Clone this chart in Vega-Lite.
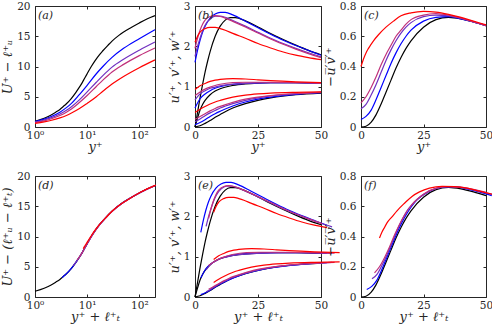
{
"$schema":"https://vega.github.io/schema/vega-lite/v6.json",
"padding":{"left":1,"top":0,"right":0,"bottom":0},
"bounds":"flush",
"spacing":{"row":49,"column":40},
"columns":3,
"config":{
 "view":{"stroke":"#262626","strokeWidth":1},
 "axis":{"labelFont":"DejaVu Serif","labelFontSize":10.5,"labelColor":"#262626","titleFont":"DejaVu Serif","titleFontSize":13,"titleFontStyle":"italic","titleFontWeight":"normal","titleColor":"#262626","grid":false,"domain":false,"tickColor":"#262626","tickSize":-3,"labelFlush":false,"labelOverlap":false},
 "axisX":{"labelPadding":6,"titlePadding":0},
 "axisY":{"labelPadding":8,"titlePadding":2},
 "line":{"strokeWidth":1.2,"interpolate":"monotone","clip":true},
 "text":{"font":"DejaVu Serif","fontSize":11,"fontStyle":"italic","align":"left","baseline":"top","color":"#262626"}
},
"datasets":{
"a":[
{"c":"k","x":1,"y":0.95},{"c":"k","x":1.5,"y":1.45},{"c":"k","x":2,"y":1.95},{"c":"k","x":2.5,"y":2.45},{"c":"k","x":3,"y":2.9},{"c":"k","x":3.5,"y":3.4},{"c":"k","x":4,"y":3.85},{"c":"k","x":5,"y":4.75},{"c":"k","x":6,"y":5.65},{"c":"k","x":7,"y":6.5},{"c":"k","x":8,"y":7.3},{"c":"k","x":9,"y":8.1},{"c":"k","x":10,"y":8.8},{"c":"k","x":12,"y":10.0},{"c":"k","x":14,"y":10.9},{"c":"k","x":17,"y":11.9},{"c":"k","x":20,"y":12.6},{"c":"k","x":25,"y":13.5},{"c":"k","x":30,"y":14.2},{"c":"k","x":40,"y":15.1},{"c":"k","x":50,"y":15.7},{"c":"k","x":70,"y":16.45},{"c":"k","x":100,"y":17.2},{"c":"k","x":140,"y":17.85},{"c":"k","x":200,"y":18.4},
{"c":"b","x":1,"y":0.9},{"c":"b","x":1.5,"y":1.3},{"c":"b","x":2,"y":1.7},{"c":"b","x":3,"y":2.45},{"c":"b","x":4,"y":3.2},{"c":"b","x":5,"y":3.9},{"c":"b","x":7,"y":5.3},{"c":"b","x":10,"y":6.9},{"c":"b","x":15,"y":8.8},{"c":"b","x":20,"y":10.0},{"c":"b","x":30,"y":11.5},{"c":"b","x":50,"y":13.0},{"c":"b","x":100,"y":14.6},{"c":"b","x":200,"y":16.1},
{"c":"p","x":1,"y":0.8},{"c":"p","x":1.5,"y":1.15},{"c":"p","x":2,"y":1.5},{"c":"p","x":3,"y":2.15},{"c":"p","x":4,"y":2.75},{"c":"p","x":5,"y":3.35},{"c":"p","x":7,"y":4.45},{"c":"p","x":10,"y":5.8},{"c":"p","x":15,"y":7.4},{"c":"p","x":20,"y":8.5},{"c":"p","x":30,"y":9.9},{"c":"p","x":50,"y":11.2},{"c":"p","x":100,"y":12.7},{"c":"p","x":200,"y":14.05},
{"c":"m","x":1,"y":0.72},{"c":"m","x":1.5,"y":1.02},{"c":"m","x":2,"y":1.32},{"c":"m","x":3,"y":1.9},{"c":"m","x":4,"y":2.45},{"c":"m","x":5,"y":2.98},{"c":"m","x":7,"y":4.0},{"c":"m","x":10,"y":5.2},{"c":"m","x":15,"y":6.7},{"c":"m","x":20,"y":7.75},{"c":"m","x":30,"y":9.1},{"c":"m","x":50,"y":10.35},{"c":"m","x":100,"y":11.8},{"c":"m","x":200,"y":13.06},
{"c":"r","x":1,"y":0.6},{"c":"r","x":1.5,"y":0.85},{"c":"r","x":2,"y":1.08},{"c":"r","x":3,"y":1.5},{"c":"r","x":4,"y":1.9},{"c":"r","x":5,"y":2.3},{"c":"r","x":7,"y":3.0},{"c":"r","x":10,"y":3.9},{"c":"r","x":15,"y":5.0},{"c":"r","x":20,"y":5.9},{"c":"r","x":30,"y":7.1},{"c":"r","x":50,"y":8.35},{"c":"r","x":100,"y":9.8},{"c":"r","x":200,"y":11.1}
],
"d":[
{"c":"k","x":1,"y":0.95},{"c":"k","x":1.5,"y":1.45},{"c":"k","x":2,"y":1.95},{"c":"k","x":2.5,"y":2.45},{"c":"k","x":3,"y":2.9},{"c":"k","x":3.5,"y":3.4},{"c":"k","x":4,"y":3.85},{"c":"k","x":5,"y":4.75},{"c":"k","x":6,"y":5.65},{"c":"k","x":7,"y":6.5},{"c":"k","x":8,"y":7.3},{"c":"k","x":9,"y":8.1},{"c":"k","x":10,"y":8.8},{"c":"k","x":12,"y":10.0},{"c":"k","x":14,"y":10.9},{"c":"k","x":17,"y":11.9},{"c":"k","x":20,"y":12.6},{"c":"k","x":25,"y":13.5},{"c":"k","x":30,"y":14.2},{"c":"k","x":40,"y":15.1},{"c":"k","x":50,"y":15.7},{"c":"k","x":70,"y":16.45},{"c":"k","x":100,"y":17.2},{"c":"k","x":140,"y":17.85},{"c":"k","x":200,"y":18.4},
{"c":"b","x":3.3,"y":3.2},{"c":"b","x":3.8,"y":3.67},{"c":"b","x":4.3,"y":4.12},{"c":"b","x":5.3,"y":5.02},{"c":"b","x":6.3,"y":5.91},{"c":"b","x":7.3,"y":6.74},{"c":"b","x":9.3,"y":8.31},{"c":"b","x":12.3,"y":10.14},{"c":"b","x":17.3,"y":11.97},{"c":"b","x":22.3,"y":13.0},{"c":"b","x":32.3,"y":14.4},{"c":"b","x":52.3,"y":15.77},{"c":"b","x":102.3,"y":17.24},{"c":"b","x":202.3,"y":18.43},
{"c":"p","x":5.4,"y":5.2},{"c":"p","x":5.9,"y":5.6},{"c":"p","x":6.4,"y":6.02},{"c":"p","x":7.4,"y":6.82},{"c":"p","x":8.4,"y":7.62},{"c":"p","x":9.4,"y":8.38},{"c":"p","x":11.4,"y":9.64},{"c":"p","x":14.4,"y":11.03},{"c":"p","x":19.4,"y":12.46},{"c":"p","x":24.4,"y":13.4},{"c":"p","x":34.4,"y":14.6},{"c":"p","x":54.4,"y":15.85},{"c":"p","x":104.4,"y":17.27},{"c":"p","x":204.4,"y":18.45},
{"c":"m","x":6.4,"y":6.12},{"c":"m","x":6.9,"y":6.46},{"c":"m","x":7.4,"y":6.84},{"c":"m","x":8.4,"y":7.62},{"c":"m","x":9.4,"y":8.38},{"c":"m","x":10.4,"y":9.04},{"c":"m","x":12.4,"y":10.18},{"c":"m","x":15.4,"y":11.36},{"c":"m","x":20.4,"y":12.67},{"c":"m","x":25.4,"y":13.56},{"c":"m","x":35.4,"y":14.7},{"c":"m","x":55.4,"y":15.9},{"c":"m","x":105.4,"y":17.3},{"c":"m","x":205.4,"y":18.46},
{"c":"r","x":8.4,"y":8.0},{"c":"r","x":8.9,"y":8.37},{"c":"r","x":9.4,"y":8.68},{"c":"r","x":10.4,"y":9.29},{"c":"r","x":11.4,"y":9.84},{"c":"r","x":12.4,"y":10.33},{"c":"r","x":14.4,"y":11.13},{"c":"r","x":17.4,"y":12.05},{"c":"r","x":22.4,"y":13.03},{"c":"r","x":27.4,"y":13.84},{"c":"r","x":37.4,"y":14.87},{"c":"r","x":57.4,"y":15.97},{"c":"r","x":107.4,"y":17.35},{"c":"r","x":207.4,"y":18.49}
],
"b":[
{"c":"k","q":"u","x":0,"y":0},{"c":"k","q":"u","x":1,"y":0.36},{"c":"k","q":"u","x":2,"y":0.72},{"c":"k","q":"u","x":3,"y":1.05},{"c":"k","q":"u","x":4,"y":1.36},{"c":"k","q":"u","x":5,"y":1.63},{"c":"k","q":"u","x":6,"y":1.87},{"c":"k","q":"u","x":8,"y":2.25},{"c":"k","q":"u","x":10,"y":2.5},{"c":"k","q":"u","x":12,"y":2.65},{"c":"k","q":"u","x":14,"y":2.71},{"c":"k","q":"u","x":16,"y":2.71},{"c":"k","q":"u","x":20,"y":2.63},{"c":"k","q":"u","x":25,"y":2.48},{"c":"k","q":"u","x":30,"y":2.32},{"c":"k","q":"u","x":35,"y":2.17},{"c":"k","q":"u","x":40,"y":2.03},{"c":"k","q":"u","x":45,"y":1.9},{"c":"k","q":"u","x":50,"y":1.79},
{"c":"b","q":"u","x":0,"y":1.6},{"c":"b","q":"u","x":1,"y":1.9},{"c":"b","q":"u","x":2,"y":2.15},{"c":"b","q":"u","x":3,"y":2.35},{"c":"b","q":"u","x":4,"y":2.5},{"c":"b","q":"u","x":6,"y":2.7},{"c":"b","q":"u","x":8,"y":2.8},{"c":"b","q":"u","x":10,"y":2.84},{"c":"b","q":"u","x":12,"y":2.84},{"c":"b","q":"u","x":15,"y":2.78},{"c":"b","q":"u","x":20,"y":2.62},{"c":"b","q":"u","x":25,"y":2.46},{"c":"b","q":"u","x":30,"y":2.3},{"c":"b","q":"u","x":35,"y":2.15},{"c":"b","q":"u","x":40,"y":2.02},{"c":"b","q":"u","x":45,"y":1.9},{"c":"b","q":"u","x":50,"y":1.78},
{"c":"p","q":"u","x":0,"y":1.75},{"c":"p","q":"u","x":1,"y":2.0},{"c":"p","q":"u","x":2,"y":2.2},{"c":"p","q":"u","x":3,"y":2.38},{"c":"p","q":"u","x":4,"y":2.52},{"c":"p","q":"u","x":6,"y":2.68},{"c":"p","q":"u","x":8,"y":2.75},{"c":"p","q":"u","x":10,"y":2.75},{"c":"p","q":"u","x":12,"y":2.72},{"c":"p","q":"u","x":15,"y":2.64},{"c":"p","q":"u","x":20,"y":2.5},{"c":"p","q":"u","x":25,"y":2.35},{"c":"p","q":"u","x":30,"y":2.2},{"c":"p","q":"u","x":35,"y":2.07},{"c":"p","q":"u","x":40,"y":1.95},{"c":"p","q":"u","x":45,"y":1.84},{"c":"p","q":"u","x":50,"y":1.74},
{"c":"m","q":"u","x":0,"y":1.95},{"c":"m","q":"u","x":1,"y":2.2},{"c":"m","q":"u","x":2,"y":2.4},{"c":"m","q":"u","x":3,"y":2.55},{"c":"m","q":"u","x":4,"y":2.65},{"c":"m","q":"u","x":6,"y":2.74},{"c":"m","q":"u","x":8,"y":2.76},{"c":"m","q":"u","x":10,"y":2.74},{"c":"m","q":"u","x":12,"y":2.7},{"c":"m","q":"u","x":15,"y":2.62},{"c":"m","q":"u","x":20,"y":2.48},{"c":"m","q":"u","x":25,"y":2.33},{"c":"m","q":"u","x":30,"y":2.18},{"c":"m","q":"u","x":35,"y":2.05},{"c":"m","q":"u","x":40,"y":1.93},{"c":"m","q":"u","x":45,"y":1.82},{"c":"m","q":"u","x":50,"y":1.72},
{"c":"r","q":"u","x":0,"y":2.1},{"c":"r","q":"u","x":1,"y":2.25},{"c":"r","q":"u","x":2,"y":2.35},{"c":"r","q":"u","x":4,"y":2.44},{"c":"r","q":"u","x":6,"y":2.47},{"c":"r","q":"u","x":8,"y":2.47},{"c":"r","q":"u","x":10,"y":2.44},{"c":"r","q":"u","x":12,"y":2.4},{"c":"r","q":"u","x":15,"y":2.32},{"c":"r","q":"u","x":20,"y":2.2},{"c":"r","q":"u","x":25,"y":2.07},{"c":"r","q":"u","x":30,"y":1.96},{"c":"r","q":"u","x":35,"y":1.86},{"c":"r","q":"u","x":40,"y":1.78},{"c":"r","q":"u","x":45,"y":1.72},{"c":"r","q":"u","x":50,"y":1.67},
{"c":"k","q":"w","x":0,"y":0},{"c":"k","q":"w","x":1,"y":0.22},{"c":"k","q":"w","x":2,"y":0.42},{"c":"k","q":"w","x":3,"y":0.56},{"c":"k","q":"w","x":4,"y":0.66},{"c":"k","q":"w","x":6,"y":0.8},{"c":"k","q":"w","x":8,"y":0.89},{"c":"k","q":"w","x":10,"y":0.95},{"c":"k","q":"w","x":15,"y":1.03},{"c":"k","q":"w","x":20,"y":1.07},{"c":"k","q":"w","x":25,"y":1.09},{"c":"k","q":"w","x":30,"y":1.1},{"c":"k","q":"w","x":40,"y":1.1},{"c":"k","q":"w","x":50,"y":1.08},
{"c":"b","q":"w","x":0,"y":0.47},{"c":"b","q":"w","x":2,"y":0.7},{"c":"b","q":"w","x":4,"y":0.82},{"c":"b","q":"w","x":6,"y":0.9},{"c":"b","q":"w","x":8,"y":0.96},{"c":"b","q":"w","x":10,"y":1.0},{"c":"b","q":"w","x":15,"y":1.06},{"c":"b","q":"w","x":20,"y":1.08},{"c":"b","q":"w","x":30,"y":1.1},{"c":"b","q":"w","x":40,"y":1.1},{"c":"b","q":"w","x":50,"y":1.08},
{"c":"p","q":"w","x":0,"y":0.67},{"c":"p","q":"w","x":2,"y":0.82},{"c":"p","q":"w","x":4,"y":0.9},{"c":"p","q":"w","x":6,"y":0.96},{"c":"p","q":"w","x":8,"y":0.99},{"c":"p","q":"w","x":10,"y":1.02},{"c":"p","q":"w","x":15,"y":1.06},{"c":"p","q":"w","x":20,"y":1.08},{"c":"p","q":"w","x":30,"y":1.1},{"c":"p","q":"w","x":40,"y":1.1},{"c":"p","q":"w","x":50,"y":1.08},
{"c":"m","q":"w","x":0,"y":0.78},{"c":"m","q":"w","x":2,"y":0.87},{"c":"m","q":"w","x":4,"y":0.94},{"c":"m","q":"w","x":6,"y":0.99},{"c":"m","q":"w","x":8,"y":1.03},{"c":"m","q":"w","x":10,"y":1.06},{"c":"m","q":"w","x":15,"y":1.1},{"c":"m","q":"w","x":20,"y":1.11},{"c":"m","q":"w","x":30,"y":1.11},{"c":"m","q":"w","x":40,"y":1.1},{"c":"m","q":"w","x":50,"y":1.09},
{"c":"r","q":"w","x":0,"y":0.93},{"c":"r","q":"w","x":2,"y":1.02},{"c":"r","q":"w","x":4,"y":1.08},{"c":"r","q":"w","x":6,"y":1.13},{"c":"r","q":"w","x":8,"y":1.16},{"c":"r","q":"w","x":10,"y":1.18},{"c":"r","q":"w","x":15,"y":1.2},{"c":"r","q":"w","x":20,"y":1.19},{"c":"r","q":"w","x":25,"y":1.17},{"c":"r","q":"w","x":30,"y":1.15},{"c":"r","q":"w","x":40,"y":1.12},{"c":"r","q":"w","x":50,"y":1.1},
{"c":"k","q":"v","x":0,"y":0},{"c":"k","q":"v","x":2,"y":0.03},{"c":"k","q":"v","x":4,"y":0.09},{"c":"k","q":"v","x":6,"y":0.16},{"c":"k","q":"v","x":8,"y":0.24},{"c":"k","q":"v","x":10,"y":0.31},{"c":"k","q":"v","x":12,"y":0.38},{"c":"k","q":"v","x":15,"y":0.47},{"c":"k","q":"v","x":20,"y":0.58},{"c":"k","q":"v","x":25,"y":0.66},{"c":"k","q":"v","x":30,"y":0.72},{"c":"k","q":"v","x":40,"y":0.8},{"c":"k","q":"v","x":50,"y":0.84},
{"c":"b","q":"v","x":0,"y":0.06},{"c":"b","q":"v","x":2,"y":0.11},{"c":"b","q":"v","x":4,"y":0.18},{"c":"b","q":"v","x":6,"y":0.26},{"c":"b","q":"v","x":8,"y":0.33},{"c":"b","q":"v","x":10,"y":0.39},{"c":"b","q":"v","x":15,"y":0.52},{"c":"b","q":"v","x":20,"y":0.62},{"c":"b","q":"v","x":25,"y":0.69},{"c":"b","q":"v","x":30,"y":0.74},{"c":"b","q":"v","x":40,"y":0.81},{"c":"b","q":"v","x":50,"y":0.85},
{"c":"p","q":"v","x":0,"y":0.13},{"c":"p","q":"v","x":2,"y":0.2},{"c":"p","q":"v","x":4,"y":0.28},{"c":"p","q":"v","x":6,"y":0.35},{"c":"p","q":"v","x":8,"y":0.41},{"c":"p","q":"v","x":10,"y":0.47},{"c":"p","q":"v","x":15,"y":0.58},{"c":"p","q":"v","x":20,"y":0.66},{"c":"p","q":"v","x":25,"y":0.72},{"c":"p","q":"v","x":30,"y":0.77},{"c":"p","q":"v","x":40,"y":0.82},{"c":"p","q":"v","x":50,"y":0.86},
{"c":"m","q":"v","x":0,"y":0.19},{"c":"m","q":"v","x":2,"y":0.26},{"c":"m","q":"v","x":4,"y":0.33},{"c":"m","q":"v","x":6,"y":0.4},{"c":"m","q":"v","x":8,"y":0.46},{"c":"m","q":"v","x":10,"y":0.51},{"c":"m","q":"v","x":15,"y":0.61},{"c":"m","q":"v","x":20,"y":0.69},{"c":"m","q":"v","x":25,"y":0.74},{"c":"m","q":"v","x":30,"y":0.78},{"c":"m","q":"v","x":40,"y":0.83},{"c":"m","q":"v","x":50,"y":0.86},
{"c":"r","q":"v","x":0,"y":0.36},{"c":"r","q":"v","x":2,"y":0.44},{"c":"r","q":"v","x":4,"y":0.51},{"c":"r","q":"v","x":6,"y":0.57},{"c":"r","q":"v","x":8,"y":0.62},{"c":"r","q":"v","x":10,"y":0.66},{"c":"r","q":"v","x":15,"y":0.74},{"c":"r","q":"v","x":20,"y":0.79},{"c":"r","q":"v","x":25,"y":0.82},{"c":"r","q":"v","x":30,"y":0.84},{"c":"r","q":"v","x":40,"y":0.86},{"c":"r","q":"v","x":50,"y":0.87}
],
"e":[
{"c":"k","q":"u","x":0,"y":0},{"c":"k","q":"u","x":1,"y":0.36},{"c":"k","q":"u","x":2,"y":0.72},{"c":"k","q":"u","x":3,"y":1.05},{"c":"k","q":"u","x":4,"y":1.36},{"c":"k","q":"u","x":5,"y":1.63},{"c":"k","q":"u","x":6,"y":1.87},{"c":"k","q":"u","x":8,"y":2.25},{"c":"k","q":"u","x":10,"y":2.5},{"c":"k","q":"u","x":12,"y":2.65},{"c":"k","q":"u","x":14,"y":2.71},{"c":"k","q":"u","x":16,"y":2.71},{"c":"k","q":"u","x":20,"y":2.63},{"c":"k","q":"u","x":25,"y":2.48},{"c":"k","q":"u","x":30,"y":2.32},{"c":"k","q":"u","x":35,"y":2.17},{"c":"k","q":"u","x":40,"y":2.03},{"c":"k","q":"u","x":45,"y":1.9},{"c":"k","q":"u","x":50,"y":1.79},
{"c":"b","q":"u","x":2.3,"y":1.6},{"c":"b","q":"u","x":3.3,"y":1.9},{"c":"b","q":"u","x":4.3,"y":2.15},{"c":"b","q":"u","x":5.3,"y":2.35},{"c":"b","q":"u","x":6.3,"y":2.5},{"c":"b","q":"u","x":8.3,"y":2.7},{"c":"b","q":"u","x":10.3,"y":2.8},{"c":"b","q":"u","x":12.3,"y":2.84},{"c":"b","q":"u","x":14.3,"y":2.84},{"c":"b","q":"u","x":17.3,"y":2.78},{"c":"b","q":"u","x":22.3,"y":2.62},{"c":"b","q":"u","x":27.3,"y":2.46},{"c":"b","q":"u","x":32.3,"y":2.3},{"c":"b","q":"u","x":37.3,"y":2.15},{"c":"b","q":"u","x":42.3,"y":2.02},{"c":"b","q":"u","x":47.3,"y":1.9},{"c":"b","q":"u","x":52.3,"y":1.78},
{"c":"p","q":"u","x":4.4,"y":1.75},{"c":"p","q":"u","x":5.4,"y":2.0},{"c":"p","q":"u","x":6.4,"y":2.2},{"c":"p","q":"u","x":7.4,"y":2.38},{"c":"p","q":"u","x":8.4,"y":2.52},{"c":"p","q":"u","x":10.4,"y":2.68},{"c":"p","q":"u","x":12.4,"y":2.75},{"c":"p","q":"u","x":14.4,"y":2.75},{"c":"p","q":"u","x":16.4,"y":2.72},{"c":"p","q":"u","x":19.4,"y":2.64},{"c":"p","q":"u","x":24.4,"y":2.5},{"c":"p","q":"u","x":29.4,"y":2.35},{"c":"p","q":"u","x":34.4,"y":2.2},{"c":"p","q":"u","x":39.4,"y":2.07},{"c":"p","q":"u","x":44.4,"y":1.95},{"c":"p","q":"u","x":49.4,"y":1.84},{"c":"p","q":"u","x":54.4,"y":1.74},
{"c":"m","q":"u","x":5.4,"y":1.95},{"c":"m","q":"u","x":6.4,"y":2.2},{"c":"m","q":"u","x":7.4,"y":2.4},{"c":"m","q":"u","x":8.4,"y":2.55},{"c":"m","q":"u","x":9.4,"y":2.65},{"c":"m","q":"u","x":11.4,"y":2.74},{"c":"m","q":"u","x":13.4,"y":2.76},{"c":"m","q":"u","x":15.4,"y":2.74},{"c":"m","q":"u","x":17.4,"y":2.7},{"c":"m","q":"u","x":20.4,"y":2.62},{"c":"m","q":"u","x":25.4,"y":2.48},{"c":"m","q":"u","x":30.4,"y":2.33},{"c":"m","q":"u","x":35.4,"y":2.18},{"c":"m","q":"u","x":40.4,"y":2.05},{"c":"m","q":"u","x":45.4,"y":1.93},{"c":"m","q":"u","x":50.4,"y":1.82},
{"c":"r","q":"u","x":7.4,"y":2.1},{"c":"r","q":"u","x":8.4,"y":2.25},{"c":"r","q":"u","x":9.4,"y":2.35},{"c":"r","q":"u","x":11.4,"y":2.44},{"c":"r","q":"u","x":13.4,"y":2.47},{"c":"r","q":"u","x":15.4,"y":2.47},{"c":"r","q":"u","x":17.4,"y":2.44},{"c":"r","q":"u","x":19.4,"y":2.4},{"c":"r","q":"u","x":22.4,"y":2.32},{"c":"r","q":"u","x":27.4,"y":2.2},{"c":"r","q":"u","x":32.4,"y":2.07},{"c":"r","q":"u","x":37.4,"y":1.96},{"c":"r","q":"u","x":42.4,"y":1.86},{"c":"r","q":"u","x":47.4,"y":1.78},{"c":"r","q":"u","x":52.4,"y":1.72},
{"c":"k","q":"w","x":0,"y":0},{"c":"k","q":"w","x":1,"y":0.22},{"c":"k","q":"w","x":2,"y":0.42},{"c":"k","q":"w","x":3,"y":0.56},{"c":"k","q":"w","x":4,"y":0.66},{"c":"k","q":"w","x":6,"y":0.8},{"c":"k","q":"w","x":8,"y":0.89},{"c":"k","q":"w","x":10,"y":0.95},{"c":"k","q":"w","x":15,"y":1.03},{"c":"k","q":"w","x":20,"y":1.07},{"c":"k","q":"w","x":25,"y":1.09},{"c":"k","q":"w","x":30,"y":1.1},{"c":"k","q":"w","x":40,"y":1.1},{"c":"k","q":"w","x":50,"y":1.08},
{"c":"b","q":"w","x":2.3,"y":0.47},{"c":"b","q":"w","x":4.3,"y":0.7},{"c":"b","q":"w","x":6.3,"y":0.82},{"c":"b","q":"w","x":8.3,"y":0.9},{"c":"b","q":"w","x":10.3,"y":0.96},{"c":"b","q":"w","x":12.3,"y":1.0},{"c":"b","q":"w","x":17.3,"y":1.06},{"c":"b","q":"w","x":22.3,"y":1.08},{"c":"b","q":"w","x":32.3,"y":1.1},{"c":"b","q":"w","x":42.3,"y":1.1},{"c":"b","q":"w","x":52.3,"y":1.08},
{"c":"p","q":"w","x":4.4,"y":0.67},{"c":"p","q":"w","x":6.4,"y":0.82},{"c":"p","q":"w","x":8.4,"y":0.9},{"c":"p","q":"w","x":10.4,"y":0.96},{"c":"p","q":"w","x":12.4,"y":0.99},{"c":"p","q":"w","x":14.4,"y":1.02},{"c":"p","q":"w","x":19.4,"y":1.06},{"c":"p","q":"w","x":24.4,"y":1.08},{"c":"p","q":"w","x":34.4,"y":1.1},{"c":"p","q":"w","x":44.4,"y":1.1},{"c":"p","q":"w","x":54.4,"y":1.08},
{"c":"m","q":"w","x":5.4,"y":0.78},{"c":"m","q":"w","x":7.4,"y":0.87},{"c":"m","q":"w","x":9.4,"y":0.94},{"c":"m","q":"w","x":11.4,"y":0.99},{"c":"m","q":"w","x":13.4,"y":1.03},{"c":"m","q":"w","x":15.4,"y":1.06},{"c":"m","q":"w","x":20.4,"y":1.1},{"c":"m","q":"w","x":25.4,"y":1.11},{"c":"m","q":"w","x":35.4,"y":1.11},{"c":"m","q":"w","x":45.4,"y":1.1},{"c":"m","q":"w","x":55.4,"y":1.09},
{"c":"r","q":"w","x":7.4,"y":0.93},{"c":"r","q":"w","x":9.4,"y":1.02},{"c":"r","q":"w","x":11.4,"y":1.08},{"c":"r","q":"w","x":13.4,"y":1.13},{"c":"r","q":"w","x":15.4,"y":1.16},{"c":"r","q":"w","x":17.4,"y":1.18},{"c":"r","q":"w","x":22.4,"y":1.2},{"c":"r","q":"w","x":27.4,"y":1.19},{"c":"r","q":"w","x":32.4,"y":1.17},{"c":"r","q":"w","x":37.4,"y":1.15},{"c":"r","q":"w","x":47.4,"y":1.12},{"c":"r","q":"w","x":57.4,"y":1.1},
{"c":"k","q":"v","x":0,"y":0},{"c":"k","q":"v","x":2,"y":0.03},{"c":"k","q":"v","x":4,"y":0.09},{"c":"k","q":"v","x":6,"y":0.16},{"c":"k","q":"v","x":8,"y":0.24},{"c":"k","q":"v","x":10,"y":0.31},{"c":"k","q":"v","x":12,"y":0.38},{"c":"k","q":"v","x":15,"y":0.47},{"c":"k","q":"v","x":20,"y":0.58},{"c":"k","q":"v","x":25,"y":0.66},{"c":"k","q":"v","x":30,"y":0.72},{"c":"k","q":"v","x":40,"y":0.8},{"c":"k","q":"v","x":50,"y":0.84},
{"c":"b","q":"v","x":2.3,"y":0.06},{"c":"b","q":"v","x":4.3,"y":0.11},{"c":"b","q":"v","x":6.3,"y":0.18},{"c":"b","q":"v","x":8.3,"y":0.26},{"c":"b","q":"v","x":10.3,"y":0.33},{"c":"b","q":"v","x":12.3,"y":0.39},{"c":"b","q":"v","x":17.3,"y":0.52},{"c":"b","q":"v","x":22.3,"y":0.62},{"c":"b","q":"v","x":27.3,"y":0.69},{"c":"b","q":"v","x":32.3,"y":0.74},{"c":"b","q":"v","x":42.3,"y":0.81},{"c":"b","q":"v","x":52.3,"y":0.85},
{"c":"p","q":"v","x":4.4,"y":0.13},{"c":"p","q":"v","x":6.4,"y":0.2},{"c":"p","q":"v","x":8.4,"y":0.28},{"c":"p","q":"v","x":10.4,"y":0.35},{"c":"p","q":"v","x":12.4,"y":0.41},{"c":"p","q":"v","x":14.4,"y":0.47},{"c":"p","q":"v","x":19.4,"y":0.58},{"c":"p","q":"v","x":24.4,"y":0.66},{"c":"p","q":"v","x":29.4,"y":0.72},{"c":"p","q":"v","x":34.4,"y":0.77},{"c":"p","q":"v","x":44.4,"y":0.82},{"c":"p","q":"v","x":54.4,"y":0.86},
{"c":"m","q":"v","x":5.4,"y":0.19},{"c":"m","q":"v","x":7.4,"y":0.26},{"c":"m","q":"v","x":9.4,"y":0.33},{"c":"m","q":"v","x":11.4,"y":0.4},{"c":"m","q":"v","x":13.4,"y":0.46},{"c":"m","q":"v","x":15.4,"y":0.51},{"c":"m","q":"v","x":20.4,"y":0.61},{"c":"m","q":"v","x":25.4,"y":0.69},{"c":"m","q":"v","x":30.4,"y":0.74},{"c":"m","q":"v","x":35.4,"y":0.78},{"c":"m","q":"v","x":45.4,"y":0.83},{"c":"m","q":"v","x":55.4,"y":0.86},
{"c":"r","q":"v","x":7.4,"y":0.36},{"c":"r","q":"v","x":9.4,"y":0.44},{"c":"r","q":"v","x":11.4,"y":0.51},{"c":"r","q":"v","x":13.4,"y":0.57},{"c":"r","q":"v","x":15.4,"y":0.62},{"c":"r","q":"v","x":17.4,"y":0.66},{"c":"r","q":"v","x":22.4,"y":0.74},{"c":"r","q":"v","x":27.4,"y":0.79},{"c":"r","q":"v","x":32.4,"y":0.82},{"c":"r","q":"v","x":37.4,"y":0.84},{"c":"r","q":"v","x":47.4,"y":0.86},{"c":"r","q":"v","x":57.4,"y":0.87}
],
"c":[
{"c":"k","x":0,"y":0},{"c":"k","x":2,"y":0.005},{"c":"k","x":4,"y":0.03},{"c":"k","x":6,"y":0.08},{"c":"k","x":8,"y":0.15},{"c":"k","x":10,"y":0.23},{"c":"k","x":12,"y":0.31},{"c":"k","x":14,"y":0.39},{"c":"k","x":16,"y":0.46},{"c":"k","x":18,"y":0.52},{"c":"k","x":20,"y":0.57},{"c":"k","x":25,"y":0.66},{"c":"k","x":30,"y":0.71},{"c":"k","x":35,"y":0.725},{"c":"k","x":40,"y":0.715},{"c":"k","x":45,"y":0.695},{"c":"k","x":50,"y":0.67},
{"c":"b","x":0,"y":0.05},{"c":"b","x":2,"y":0.07},{"c":"b","x":4,"y":0.11},{"c":"b","x":6,"y":0.18},{"c":"b","x":8,"y":0.26},{"c":"b","x":10,"y":0.34},{"c":"b","x":12,"y":0.42},{"c":"b","x":14,"y":0.49},{"c":"b","x":16,"y":0.55},{"c":"b","x":18,"y":0.6},{"c":"b","x":20,"y":0.64},{"c":"b","x":25,"y":0.7},{"c":"b","x":30,"y":0.725},{"c":"b","x":35,"y":0.73},{"c":"b","x":40,"y":0.715},{"c":"b","x":45,"y":0.695},{"c":"b","x":50,"y":0.67},
{"c":"p","x":0,"y":0.12},{"c":"p","x":2,"y":0.15},{"c":"p","x":4,"y":0.21},{"c":"p","x":6,"y":0.28},{"c":"p","x":8,"y":0.36},{"c":"p","x":10,"y":0.44},{"c":"p","x":12,"y":0.51},{"c":"p","x":14,"y":0.57},{"c":"p","x":16,"y":0.62},{"c":"p","x":18,"y":0.66},{"c":"p","x":20,"y":0.69},{"c":"p","x":25,"y":0.73},{"c":"p","x":30,"y":0.74},{"c":"p","x":35,"y":0.735},{"c":"p","x":40,"y":0.72},{"c":"p","x":45,"y":0.695},{"c":"p","x":50,"y":0.67},
{"c":"m","x":0,"y":0.16},{"c":"m","x":2,"y":0.2},{"c":"m","x":4,"y":0.26},{"c":"m","x":6,"y":0.33},{"c":"m","x":8,"y":0.41},{"c":"m","x":10,"y":0.48},{"c":"m","x":12,"y":0.54},{"c":"m","x":14,"y":0.6},{"c":"m","x":16,"y":0.64},{"c":"m","x":18,"y":0.68},{"c":"m","x":20,"y":0.71},{"c":"m","x":25,"y":0.74},{"c":"m","x":30,"y":0.75},{"c":"m","x":35,"y":0.74},{"c":"m","x":40,"y":0.72},{"c":"m","x":45,"y":0.695},{"c":"m","x":50,"y":0.67},
{"c":"r","x":0,"y":0.4},{"c":"r","x":1,"y":0.45},{"c":"r","x":2,"y":0.49},{"c":"r","x":3,"y":0.52},{"c":"r","x":5,"y":0.57},{"c":"r","x":7,"y":0.61},{"c":"r","x":10,"y":0.66},{"c":"r","x":13,"y":0.7},{"c":"r","x":16,"y":0.735},{"c":"r","x":20,"y":0.755},{"c":"r","x":25,"y":0.765},{"c":"r","x":30,"y":0.76},{"c":"r","x":35,"y":0.745},{"c":"r","x":40,"y":0.725},{"c":"r","x":45,"y":0.7},{"c":"r","x":50,"y":0.675}
],
"f":[
{"c":"k","x":0,"y":0},{"c":"k","x":2,"y":0.005},{"c":"k","x":4,"y":0.03},{"c":"k","x":6,"y":0.08},{"c":"k","x":8,"y":0.15},{"c":"k","x":10,"y":0.23},{"c":"k","x":12,"y":0.31},{"c":"k","x":14,"y":0.39},{"c":"k","x":16,"y":0.46},{"c":"k","x":18,"y":0.52},{"c":"k","x":20,"y":0.57},{"c":"k","x":25,"y":0.66},{"c":"k","x":30,"y":0.71},{"c":"k","x":35,"y":0.725},{"c":"k","x":40,"y":0.715},{"c":"k","x":45,"y":0.695},{"c":"k","x":50,"y":0.67},
{"c":"b","x":2.3,"y":0.05},{"c":"b","x":4.3,"y":0.07},{"c":"b","x":6.3,"y":0.11},{"c":"b","x":8.3,"y":0.18},{"c":"b","x":10.3,"y":0.26},{"c":"b","x":12.3,"y":0.34},{"c":"b","x":14.3,"y":0.42},{"c":"b","x":16.3,"y":0.49},{"c":"b","x":18.3,"y":0.55},{"c":"b","x":20.3,"y":0.6},{"c":"b","x":22.3,"y":0.64},{"c":"b","x":27.3,"y":0.7},{"c":"b","x":32.3,"y":0.725},{"c":"b","x":37.3,"y":0.73},{"c":"b","x":42.3,"y":0.715},{"c":"b","x":47.3,"y":0.695},{"c":"b","x":52.3,"y":0.67},
{"c":"p","x":4.4,"y":0.12},{"c":"p","x":6.4,"y":0.15},{"c":"p","x":8.4,"y":0.21},{"c":"p","x":10.4,"y":0.28},{"c":"p","x":12.4,"y":0.36},{"c":"p","x":14.4,"y":0.44},{"c":"p","x":16.4,"y":0.51},{"c":"p","x":18.4,"y":0.57},{"c":"p","x":20.4,"y":0.61},{"c":"p","x":22.4,"y":0.645},{"c":"p","x":24.4,"y":0.67},{"c":"p","x":29.4,"y":0.715},{"c":"p","x":34.4,"y":0.73},{"c":"p","x":39.4,"y":0.725},{"c":"p","x":44.4,"y":0.71},{"c":"p","x":49.4,"y":0.69},{"c":"p","x":54.4,"y":0.67},
{"c":"m","x":5.4,"y":0.16},{"c":"m","x":7.4,"y":0.2},{"c":"m","x":9.4,"y":0.26},{"c":"m","x":11.4,"y":0.33},{"c":"m","x":13.4,"y":0.41},{"c":"m","x":15.4,"y":0.48},{"c":"m","x":17.4,"y":0.54},{"c":"m","x":19.4,"y":0.59},{"c":"m","x":21.4,"y":0.63},{"c":"m","x":23.4,"y":0.66},{"c":"m","x":25.4,"y":0.685},{"c":"m","x":30.4,"y":0.72},{"c":"m","x":35.4,"y":0.73},{"c":"m","x":40.4,"y":0.725},{"c":"m","x":45.4,"y":0.71},{"c":"m","x":50.4,"y":0.69},
{"c":"r","x":7.4,"y":0.39},{"c":"r","x":8.4,"y":0.43},{"c":"r","x":9.4,"y":0.46},{"c":"r","x":10.4,"y":0.49},{"c":"r","x":12.4,"y":0.53},{"c":"r","x":14.4,"y":0.57},{"c":"r","x":17.4,"y":0.62},{"c":"r","x":20.4,"y":0.665},{"c":"r","x":23.4,"y":0.695},{"c":"r","x":27.4,"y":0.72},{"c":"r","x":32.4,"y":0.732},{"c":"r","x":37.4,"y":0.73},{"c":"r","x":42.4,"y":0.72},{"c":"r","x":47.4,"y":0.7},{"c":"r","x":52.4,"y":0.68}
]
},
"concat":[
 {"width":120,"height":121,"resolve":{"axis":{"x":"independent","y":"independent"}},"layer":[
  {"data":{"name":"a"},"mark":{"type":"line"},"encoding":{
   "x":{"field":"x","type":"quantitative","scale":{"type":"log","domain":[1,200],"nice":false},"axis":{"values":[1,10,100],"labelExpr":"datum.value == 1 ? '10⁰' : datum.value == 10 ? '10¹' : '10²'","title":"y⁺"}},
   "y":{"field":"y","type":"quantitative","scale":{"domain":[0,20],"nice":false},"axis":{"values":[0,5,10,15,20],"title":"U⁺ − ℓ⁺ᵤ"}},
   "color":{"field":"c","type":"nominal","scale":{"domain":["k","b","p","m","r"],"range":["#000000","#0000ff","#7030c0","#c0307a","#ff0000"]},"legend":null}}},
  {"data":{"values":[{"t":"(a)"}]},"mark":{"type":"text"},"encoding":{"x":{"datum":1.14,"axis":{"orient":"top","values":[1,10,100],"labels":false,"title":null}},"y":{"datum":19.34,"axis":{"orient":"right","values":[0,5,10,15,20],"labels":false,"title":null}},"text":{"field":"t"}}}
 ]},
 {"width":126,"height":121,"resolve":{"axis":{"x":"independent","y":"independent"}},"layer":[
  {"data":{"name":"b"},"mark":{"type":"line"},"encoding":{
   "x":{"field":"x","type":"quantitative","scale":{"domain":[0,50],"nice":false},"axis":{"values":[0,25,50],"title":"y⁺"}},
   "y":{"field":"y","type":"quantitative","scale":{"domain":[0,3],"nice":false},"axis":{"values":[0,1,2,3],"title":"u′⁺, v′⁺, w′⁺"}},
   "detail":{"field":"q"},
   "color":{"field":"c","type":"nominal","scale":{"domain":["k","b","p","m","r"],"range":["#000000","#0000ff","#7030c0","#c0307a","#ff0000"]},"legend":null}}},
  {"data":{"values":[{"t":"(b)"}]},"mark":{"type":"text"},"encoding":{"x":{"datum":1.2,"axis":{"orient":"top","values":[0,25,50],"labels":false,"title":null}},"y":{"datum":2.9,"axis":{"orient":"right","values":[0,1,2,3],"labels":false,"title":null}},"text":{"field":"t"}}}
 ]},
 {"width":125,"height":121,"resolve":{"axis":{"x":"independent","y":"independent"}},"layer":[
  {"data":{"name":"c"},"mark":{"type":"line"},"encoding":{
   "x":{"field":"x","type":"quantitative","scale":{"domain":[0,50],"nice":false},"axis":{"values":[0,25,50],"title":"y⁺"}},
   "y":{"field":"y","type":"quantitative","scale":{"domain":[0,0.8],"nice":false},"axis":{"values":[0,0.2,0.4,0.6,0.8],"labelOverlap":false,"labelExpr":"datum.value == 0 ? '0' : format(datum.value, '.1f')","title":"−u̅′v̅′⁺"}},
   "color":{"field":"c","type":"nominal","scale":{"domain":["k","b","p","m","r"],"range":["#000000","#0000ff","#7030c0","#c0307a","#ff0000"]},"legend":null}}},
  {"data":{"values":[{"t":"(c)"}]},"mark":{"type":"text"},"encoding":{"x":{"datum":1.2,"axis":{"orient":"top","values":[0,25,50],"labels":false,"title":null}},"y":{"datum":0.774,"axis":{"orient":"right","values":[0,0.2,0.4,0.6,0.8],"labels":false,"title":null}},"text":{"field":"t"}}}
 ]},
 {"width":120,"height":121,"resolve":{"axis":{"x":"independent","y":"independent"}},"layer":[
  {"data":{"name":"d"},"mark":{"type":"line"},"encoding":{
   "x":{"field":"x","type":"quantitative","scale":{"type":"log","domain":[1,200],"nice":false},"axis":{"values":[1,10,100],"labelExpr":"datum.value == 1 ? '10⁰' : datum.value == 10 ? '10¹' : '10²'","title":"y⁺ + ℓ⁺ₜ"}},
   "y":{"field":"y","type":"quantitative","scale":{"domain":[0,20],"nice":false},"axis":{"values":[0,5,10,15,20],"title":"U⁺ − (ℓ⁺ᵤ − ℓ⁺ₜ)"}},
   "color":{"field":"c","type":"nominal","scale":{"domain":["k","b","p","m","r"],"range":["#000000","#0000ff","#7030c0","#c0307a","#ff0000"]},"legend":null}}},
  {"data":{"values":[{"t":"(d)"}]},"mark":{"type":"text"},"encoding":{"x":{"datum":1.14,"axis":{"orient":"top","values":[1,10,100],"labels":false,"title":null}},"y":{"datum":19.34,"axis":{"orient":"right","values":[0,5,10,15,20],"labels":false,"title":null}},"text":{"field":"t"}}}
 ]},
 {"width":126,"height":121,"resolve":{"axis":{"x":"independent","y":"independent"}},"layer":[
  {"data":{"name":"e"},"mark":{"type":"line"},"encoding":{
   "x":{"field":"x","type":"quantitative","scale":{"domain":[0,50],"nice":false},"axis":{"values":[0,25,50],"title":"y⁺ + ℓ⁺ₜ"}},
   "y":{"field":"y","type":"quantitative","scale":{"domain":[0,3],"nice":false},"axis":{"values":[0,1,2,3],"title":"u′⁺, v′⁺, w′⁺"}},
   "detail":{"field":"q"},
   "color":{"field":"c","type":"nominal","scale":{"domain":["k","b","p","m","r"],"range":["#000000","#0000ff","#7030c0","#c0307a","#ff0000"]},"legend":null}}},
  {"data":{"values":[{"t":"(e)"}]},"mark":{"type":"text"},"encoding":{"x":{"datum":1.2,"axis":{"orient":"top","values":[0,25,50],"labels":false,"title":null}},"y":{"datum":2.9,"axis":{"orient":"right","values":[0,1,2,3],"labels":false,"title":null}},"text":{"field":"t"}}}
 ]},
 {"width":125,"height":121,"resolve":{"axis":{"x":"independent","y":"independent"}},"layer":[
  {"data":{"name":"f"},"mark":{"type":"line"},"encoding":{
   "x":{"field":"x","type":"quantitative","scale":{"domain":[0,50],"nice":false},"axis":{"values":[0,25,50],"title":"y⁺ + ℓ⁺ₜ"}},
   "y":{"field":"y","type":"quantitative","scale":{"domain":[0,0.8],"nice":false},"axis":{"values":[0,0.2,0.4,0.6,0.8],"labelOverlap":false,"labelExpr":"datum.value == 0 ? '0' : format(datum.value, '.1f')","title":"−u̅′v̅′⁺"}},
   "color":{"field":"c","type":"nominal","scale":{"domain":["k","b","p","m","r"],"range":["#000000","#0000ff","#7030c0","#c0307a","#ff0000"]},"legend":null}}},
  {"data":{"values":[{"t":"(f)"}]},"mark":{"type":"text"},"encoding":{"x":{"datum":1.2,"axis":{"orient":"top","values":[0,25,50],"labels":false,"title":null}},"y":{"datum":0.774,"axis":{"orient":"right","values":[0,0.2,0.4,0.6,0.8],"labels":false,"title":null}},"text":{"field":"t"}}}
 ]}
]
}
